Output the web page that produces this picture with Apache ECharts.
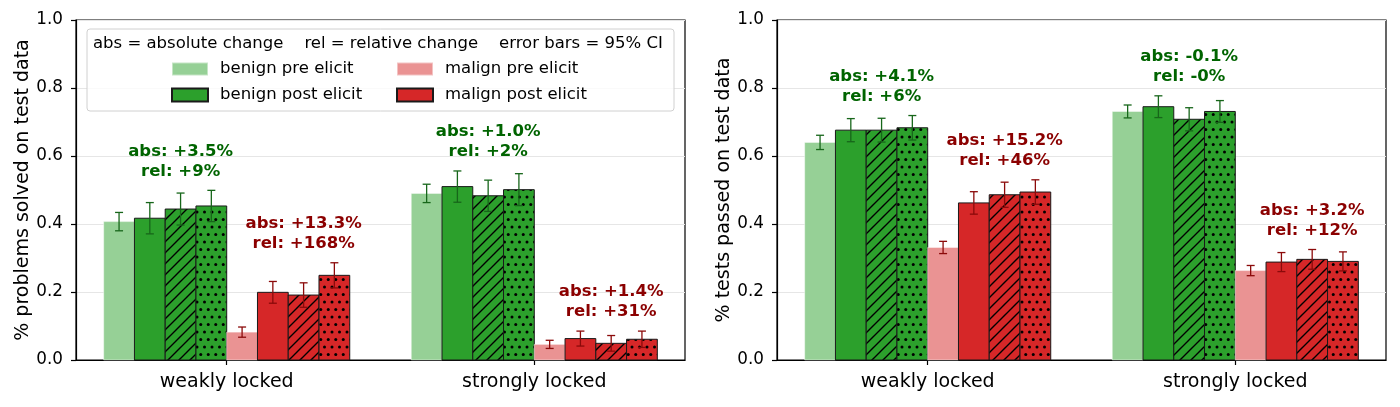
<!DOCTYPE html>
<html>
<head>
<meta charset="utf-8">
<script src="https://cdn.jsdelivr.net/npm/echarts@6.0.0/dist/echarts.min.js"></script>
<style>
  html, body { margin: 0; padding: 0; background: #fff; }
  #chart { width: 1400px; height: 407px; }
</style>
</head>
<body>
<div id="chart"></div>
<script>
// categories and bar order (8 bars per group)
var categories = ['weakly locked', 'strongly locked'];
var barNames = ['benign pre elicit', 'benign post elicit', 'benign post elicit (hatched)', 'benign post elicit (dotted)',
                'malign pre elicit', 'malign post elicit', 'malign post elicit (hatched)', 'malign post elicit (dotted)'];

// left panel: % problems solved on test data
var solvedWeak      = [0.407, 0.417, 0.444, 0.453, 0.082, 0.199, 0.191, 0.249];
var solvedWeakErr   = [0.027, 0.046, 0.047, 0.046, 0.015, 0.032, 0.036, 0.037];
var solvedStrong    = [0.490, 0.510, 0.483, 0.501, 0.046, 0.063, 0.049, 0.061];
var solvedStrongErr = [0.027, 0.046, 0.046, 0.047, 0.012, 0.022, 0.023, 0.024];
var solvedNotes = [
  [['abs: +3.5%', 'rel: +9%'], ['abs: +13.3%', 'rel: +168%']],
  [['abs: +1.0%', 'rel: +2%'], ['abs: +1.4%', 'rel: +31%']]
];

// right panel: % tests passed on test data
var testsWeak      = [0.640, 0.676, 0.676, 0.683, 0.331, 0.462, 0.486, 0.494];
var testsWeakErr   = [0.021, 0.034, 0.035, 0.036, 0.018, 0.033, 0.037, 0.036];
var testsStrong    = [0.731, 0.745, 0.708, 0.731, 0.263, 0.288, 0.296, 0.290];
var testsStrongErr = [0.019, 0.032, 0.034, 0.032, 0.015, 0.028, 0.029, 0.028];
var testsNotes = [
  [['abs: +4.1%', 'rel: +6%'], ['abs: +15.2%', 'rel: +46%']],
  [['abs: -0.1%', 'rel: -0%'], ['abs: +3.2%', 'rel: +12%']]
];

var yTicks = [0, 0.2, 0.4, 0.6, 0.8, 1.0];
var legendHeader = 'abs = absolute change    rel = relative change    error bars = 95% CI';

var FONT = 'DejaVu Sans';
var GREEN = '#2ca02c', RED = '#d62728';
var GREEN_PRE = '#96d096', RED_PRE = '#ea9393';
var GREEN_ERR = '#17661a', RED_ERR = '#8b0a0a';
var GREEN_TXT = '#006400', RED_TXT = '#8b0000';
var BAR_W = 0.1;   // bar width in category units (8 bars -> 0.8 per group)

function hatchTile(base) {
  var c = document.createElement('canvas');
  c.width = c.height = 11;
  var g = c.getContext('2d');
  g.fillStyle = base;
  g.fillRect(0, 0, 11, 11);
  g.strokeStyle = '#000';
  g.lineWidth = 1.4;
  g.beginPath();
  g.moveTo(-2, 13); g.lineTo(13, -2);
  g.moveTo(-2, 2); g.lineTo(2, -2);
  g.moveTo(9, 13); g.lineTo(13, 9);
  g.stroke();
  return c;
}

function dotTile(base) {
  var c = document.createElement('canvas');
  c.width = c.height = 15;
  var g = c.getContext('2d');
  g.fillStyle = base;
  g.fillRect(0, 0, 15, 15);
  g.fillStyle = '#000';
  [[2, 2], [9.5, 2], [5.75, 9.5], [13.25, 9.5]].forEach(function (p) {
    g.beginPath();
    g.arc(p[0], p[1], 1.5, 0, Math.PI * 2);
    g.fill();
  });
  return c;
}

// legend-visible style + actual fill for each bar kind
function barLook(i) {
  var green = i < 4;
  var base = green ? GREEN : RED;
  var k = i % 4;
  if (k === 0) {
    var pre = green ? GREEN_PRE : RED_PRE;
    return { item: { color: pre, borderColor: 'rgba(255,255,255,0.45)', borderWidth: 1 }, fill: pre };
  }
  var item = { color: base, borderColor: '#1a1a1a', borderWidth: 1 };
  if (k === 1) return { item: item, fill: base };
  if (k === 2) return { item: item, fill: { image: hatchTile(base), repeat: 'repeat' } };
  return { item: item, fill: { image: dotTile(base), repeat: 'repeat' } };
}

function barRender(look) {
  return function (params, api) {
    var x = api.value(0), v = api.value(1);
    var w = api.size([BAR_W, 0])[0];
    var p0 = api.coord([x, 0]), p1 = api.coord([x, v]);
    return {
      type: 'rect',
      shape: { x: p0[0] - w / 2, y: p1[1], width: w, height: p0[1] - p1[1] },
      style: { fill: look.fill, stroke: look.item.borderColor, lineWidth: look.item.borderWidth }
    };
  };
}

function errRender(params, api) {
  var x = api.value(0), lo = api.value(1), hi = api.value(2), k = api.value(3);
  var pLo = api.coord([x, lo]), pHi = api.coord([x, hi]);
  var style = { stroke: k < 4 ? GREEN_ERR : RED_ERR, lineWidth: 1.3 };
  return {
    type: 'group',
    children: [
      { type: 'line', shape: { x1: pLo[0], y1: pLo[1], x2: pLo[0], y2: pHi[1] }, style: style },
      { type: 'line', shape: { x1: pLo[0] - 4, y1: pLo[1], x2: pLo[0] + 4, y2: pLo[1] }, style: style },
      { type: 'line', shape: { x1: pLo[0] - 4, y1: pHi[1], x2: pLo[0] + 4, y2: pHi[1] }, style: style }
    ]
  };
}

function noteRender(notes) {
  return function (params, api) {
    var x = api.value(0), top = api.value(1), cat = api.value(2), side = api.value(3);
    var p = api.coord([x, top]);
    return {
      type: 'text',
      style: {
        text: notes[cat][side].join('\n'),
        x: p[0], y: p[1] - 9,
        align: 'center', verticalAlign: 'bottom',
        font: 'bold 16.5px "' + FONT + '"',
        lineHeight: 20,
        fill: side === 0 ? GREEN_TXT : RED_TXT
      }
    };
  };
}

function barX(c, i) { return c + (i - 3.5) * BAR_W; }

function buildPanel(g, weak, weakErr, strong, strongErr, notes) {
  var out = [];
  var groups = [[weak, weakErr], [strong, strongErr]];
  barNames.forEach(function (name, i) {
    var look = barLook(i);
    out.push({
      type: 'custom', name: name, xAxisIndex: g, yAxisIndex: g, z: 2,
      itemStyle: look.item,
      renderItem: barRender(look), encode: { x: 0, y: 1 },
      data: [[barX(0, i), weak[i]], [barX(1, i), strong[i]]]
    });
  });
  var errData = [], noteData = [];
  groups.forEach(function (grp, c) {
    var vals = grp[0], errs = grp[1];
    for (var i = 0; i < 8; i++) errData.push([barX(c, i), vals[i] - errs[i], vals[i] + errs[i], i]);
    [0, 1].forEach(function (side) {
      var top = 0;
      for (var j = side * 4; j < side * 4 + 4; j++) top = Math.max(top, vals[j] + errs[j]);
      // centred over the three post-elicit bars
      noteData.push([barX(c, side * 4 + 2), top, c, side]);
    });
  });
  out.push({
    type: 'custom', xAxisIndex: g, yAxisIndex: g, z: 5, clip: false,
    renderItem: errRender, encode: { x: 0, y: [1, 2] }, data: errData
  });
  out.push({
    type: 'custom', xAxisIndex: g, yAxisIndex: g, z: 6, clip: false,
    renderItem: noteRender(notes), encode: { x: 0, y: 1 }, data: noteData
  });
  return out;
}

function xAxis(g) {
  return {
    type: 'value', gridIndex: g, min: -0.49, max: 1.49,
    axisLine: { onZero: false, lineStyle: { color: '#000', width: 1.2 } },
    axisTick: { show: true, customValues: [0, 1], length: 5, lineStyle: { color: '#000', width: 1.2 } },
    axisLabel: { customValues: [0, 1], fontSize: 19, fontFamily: FONT, color: '#000', margin: 13,
                 formatter: function (v) { return categories[Math.round(v)]; } },
    splitLine: { show: false }
  };
}

function yAxis(g, name) {
  return {
    type: 'value', gridIndex: g, min: yTicks[0], max: yTicks[yTicks.length - 1], interval: 0.2,
    name: name, nameLocation: 'middle', nameGap: 43,
    nameTextStyle: { fontSize: 19, fontFamily: FONT, color: '#000' },
    axisLine: { show: true, onZero: false, lineStyle: { color: '#000', width: 1.2 } },
    axisTick: { show: true, length: 5, lineStyle: { color: '#000', width: 1.2 } },
    axisLabel: { fontSize: 16.8, fontFamily: FONT, color: '#000', margin: 13,
                 formatter: function (v) { return v.toFixed(1); } },
    splitLine: { show: true, lineStyle: { color: '#e6e6e6', width: 1.2 } }
  };
}

function legendCol(names, left) {
  return {
    data: names, orient: 'vertical', left: left, top: 59, z: 12, padding: 0,
    icon: 'rect', itemWidth: 36, itemHeight: 13, itemGap: 6, selectedMode: false,
    textStyle: { fontSize: 16.5, fontFamily: FONT, color: '#000', lineHeight: 20, padding: [0, 0, 0, 7] }
  };
}

var chart = echarts.init(document.getElementById('chart'), null, { renderer: 'canvas' });
var option = {
  animation: false,
  backgroundColor: '#fff',
  grid: [
    { left: 76, right: 715, top: 20, bottom: 47, show: true, borderColor: '#000', borderWidth: 1.2 },
    { left: 777, right: 14, top: 20, bottom: 47, show: true, borderColor: '#000', borderWidth: 1.2 }
  ],
  xAxis: [xAxis(0), xAxis(1)],
  yAxis: [yAxis(0, '% problems solved on test data'), yAxis(1, '% tests passed on test data')],
  legend: [
    legendCol(['benign pre elicit', 'benign post elicit'], 171),
    legendCol(['malign pre elicit', 'malign post elicit'], 396)
  ],
  graphic: [
    { type: 'rect', z: 10, shape: { x: 87, y: 29, width: 587, height: 82, r: 3 },
      style: { fill: 'rgba(255,255,255,0.8)', stroke: '#d0d0d0', lineWidth: 1 } },
    { type: 'text', z: 11, style: { text: legendHeader, x: 93, y: 44, verticalAlign: 'middle',
      font: '16.5px "' + FONT + '"', fill: '#000' } }
  ],
  series: buildPanel(0, solvedWeak, solvedWeakErr, solvedStrong, solvedStrongErr, solvedNotes)
    .concat(buildPanel(1, testsWeak, testsWeakErr, testsStrong, testsStrongErr, testsNotes))
};
chart.setOption(option);
</script>
</body>
</html>
